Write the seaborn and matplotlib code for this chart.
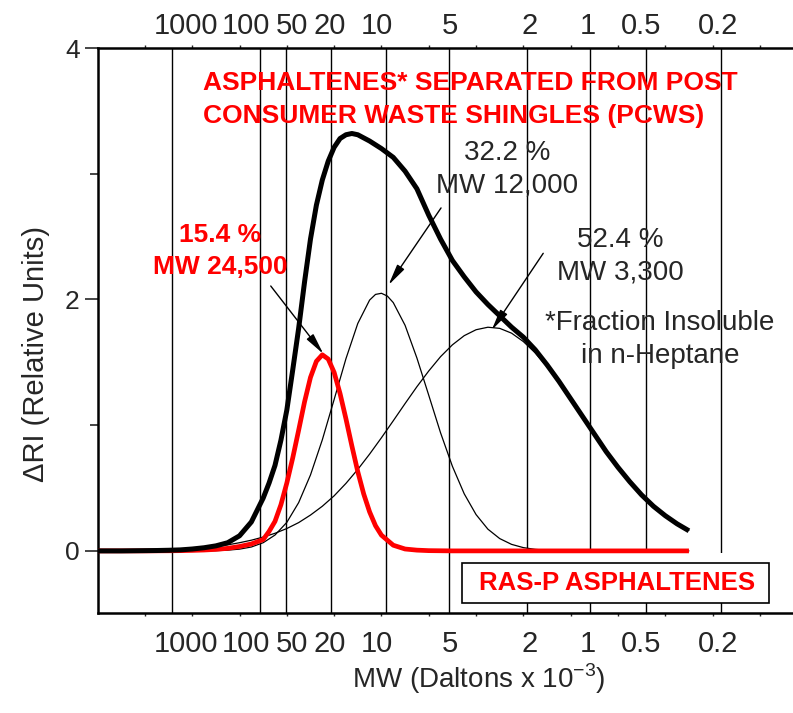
import matplotlib
matplotlib.use("Agg")
import matplotlib.pyplot as plt
from matplotlib.patches import Rectangle
import seaborn as sns

# MW calibration lines on the elution axis (arbitrary units, one tick per unit)
mw_labels = ["1000", "100", "50", "20", "10", "5", "2", "1", "0.5", "0.2"]
mw_pos = [1.57, 3.43, 3.98, 4.94, 6.09, 7.42, 9.08, 10.41, 11.60, 13.18]
mw_text_x = [1.87, 3.13, 4.11, 4.91, 5.91, 7.44, 9.14, 10.37, 11.49, 13.12]

# total detector trace (thick black)
total_x = [0, 0.5, 1.0, 1.25, 1.5, 1.75, 2.0, 2.25, 2.5, 2.75,
           3.0, 3.25, 3.5, 3.625, 3.75, 3.875, 4.0, 4.125, 4.25, 4.375,
           4.5, 4.625, 4.75, 4.875, 5.0, 5.125, 5.25, 5.375, 5.5, 5.75,
           6.0, 6.25, 6.5, 6.75, 7.0, 7.25, 7.5, 7.75, 8.0, 8.25,
           8.5, 8.75, 9.0, 9.25, 9.5, 9.75, 10.0, 10.25, 10.5, 10.75,
           11.0, 11.25, 11.5, 11.75, 12.0, 12.25, 12.5]
total_y = [0, 0, 0.002, 0.003, 0.005, 0.008, 0.015, 0.025, 0.04, 0.065,
           0.12, 0.23, 0.42, 0.54, 0.68, 0.88, 1.12, 1.44, 1.77, 2.14,
           2.48, 2.75, 2.95, 3.10, 3.21, 3.28, 3.31, 3.32, 3.31, 3.26,
           3.20, 3.13, 3.02, 2.88, 2.67, 2.48, 2.31, 2.18, 2.06, 1.96,
           1.87, 1.78, 1.70, 1.60, 1.48, 1.35, 1.21, 1.07, 0.93, 0.79,
           0.665, 0.55, 0.445, 0.355, 0.28, 0.215, 0.16]

# RAS-P fraction, MW 24,500 (red)
red_x = [0, 1.0, 1.5, 1.75, 2.0, 2.25, 2.5, 2.75, 3.0, 3.25,
         3.5, 3.625, 3.75, 3.875, 4.0, 4.125, 4.25, 4.375, 4.5, 4.625,
         4.75, 4.875, 5.0, 5.125, 5.25, 5.375, 5.5, 5.625, 5.75, 5.875,
         6.0, 6.25, 6.5, 6.75, 7.0, 7.5, 12.5]
red_y = [0, 0, 0.001, 0.002, 0.004, 0.007, 0.012, 0.02, 0.035, 0.055,
         0.09, 0.155, 0.235, 0.367, 0.54, 0.74, 0.96, 1.186, 1.38, 1.508,
         1.56, 1.526, 1.42, 1.252, 1.05, 0.835, 0.63, 0.453, 0.31, 0.20,
         0.125, 0.045, 0.015, 0.006, 0.002, 0.0, 0.0]

# fraction MW 12,000
mid_x = [0, 1.5, 2.0, 2.5, 2.75, 3.0, 3.25, 3.5, 3.75, 4.0,
         4.25, 4.5, 4.75, 5.0, 5.25, 5.5, 5.75, 5.875, 6.0, 6.125,
         6.25, 6.5, 6.75, 7.0, 7.25, 7.5, 7.75, 8.0, 8.25, 8.5,
         8.75, 9.0, 9.25, 9.5, 9.75, 10.0, 10.5, 12.5]
mid_y = [0, 0, 0.0003, 0.002, 0.006, 0.014, 0.031, 0.065, 0.126, 0.227,
         0.384, 0.604, 0.883, 1.204, 1.529, 1.809, 1.995, 2.04, 2.049, 2.027,
         1.975, 1.794, 1.534, 1.238, 0.939, 0.673, 0.454, 0.289, 0.173, 0.098,
         0.052, 0.026, 0.012, 0.005, 0.002, 0.001, 0, 0]

# fraction MW 3,300
low_x = [0, 1.0, 1.5, 2.0, 2.25, 2.5, 2.75, 3.0, 3.25, 3.5,
         3.75, 4.0, 4.25, 4.5, 4.75, 5.0, 5.25, 5.5, 5.75, 6.0,
         6.25, 6.5, 6.75, 7.0, 7.25, 7.5, 7.75, 8.0, 8.25, 8.5,
         8.75, 9.0, 9.25, 9.5, 9.75, 10.0, 10.25, 10.5, 10.75, 11.0,
         11.25, 11.5, 11.75, 12.0, 12.25, 12.5]
low_y = [0.0, 0.002, 0.005, 0.018, 0.025, 0.035, 0.048, 0.065, 0.085, 0.11,
         0.14, 0.178, 0.225, 0.285, 0.355, 0.438, 0.537, 0.648, 0.770, 0.900,
         1.035, 1.172, 1.306, 1.431, 1.545, 1.639, 1.712, 1.759, 1.779, 1.770,
         1.732, 1.665, 1.575, 1.465, 1.338, 1.203, 1.063, 0.923, 0.789, 0.662,
         0.547, 0.444, 0.354, 0.278, 0.215, 0.163]

sns.set_style("white")
plt.rcParams["font.family"] = ["Liberation Sans", "DejaVu Sans"]
RED = "#ff0000"

W, H = 793, 713
fig = plt.figure(figsize=(W / 100, H / 100), dpi=100)
ax = fig.add_axes([97.6 / W, 1 - 613 / H, 1 - 97.6 / W, 565 / H])
ax.set_xlim(0, 14.7)
ax.set_ylim(-0.494, 4.0)

for p in mw_pos:
    ax.axvline(p, color="black", lw=1.0, zorder=1)

sns.lineplot(x=low_x, y=low_y, ax=ax, color="black", lw=0.9, zorder=2)
sns.lineplot(x=mid_x, y=mid_y, ax=ax, color="black", lw=0.9, zorder=2)
sns.lineplot(x=red_x, y=red_y, ax=ax, color=RED, lw=3.4, zorder=3,
             solid_capstyle="butt")
sns.lineplot(x=total_x, y=total_y, ax=ax, color="black", lw=3.6, zorder=4,
             solid_capstyle="butt")

# legend-like box at the bottom right
ax.add_patch(Rectangle((7.704, -0.4135), 6.49, 0.40, facecolor="white",
                       edgecolor="none", zorder=1.5))
ax.add_patch(Rectangle((7.704, -0.4135), 6.49, 0.318, facecolor="white",
                       edgecolor="black", lw=1.2, zorder=5))
ax.text(10.99, -0.254, "RAS-P ASPHALTENES", color=RED, fontweight="bold",
        fontsize=18.5, ha="center", va="center", zorder=6)

# axes styling
for s in ["left", "top", "bottom"]:
    ax.spines[s].set_linewidth(1.8)
    ax.spines[s].set_color("black")
ax.spines["right"].set_visible(False)
ax.set_xticks(range(1, 15))
ax.tick_params(axis="x", which="major", bottom=True, top=True, direction="out",
               length=2.5, width=1, labelbottom=False, labeltop=False)
ax.set_yticks([0, 2, 4])
ax.set_yticks([1, 3], minor=True)
ax.tick_params(axis="y", which="major", left=True, right=False, direction="out",
               length=9.4, width=1.2, labelsize=19, pad=3.6)
ax.tick_params(axis="y", which="minor", left=True, right=False, direction="out",
               length=5.5, width=1.2)
ax.set_xlabel("")
ax.set_ylabel("")

for lab, xx in zip(mw_labels, mw_text_x):
    ax.text(xx, 4.111, lab, ha="center", va="baseline", fontsize=21, clip_on=False)
    ax.text(xx, -0.803, lab, ha="center", va="baseline", fontsize=21, clip_on=False)

ax.text(8.06, -1.089, r"MW (Daltons x 10$^{\mathregular{-3}}$)", ha="center",
        va="baseline", fontsize=20, clip_on=False)
fig.text(36 / W, 1 - 354 / H, "ΔRI (Relative Units)", rotation=90,
         ha="center", va="center", fontsize=21)

# title and peak annotations
ax.text(2.23, 3.666, "ASPHALTENES* SEPARATED FROM POST", color=RED,
        fontweight="bold", fontsize=19, ha="left", va="baseline")
ax.text(2.23, 3.401, "CONSUMER WASTE SHINGLES (PCWS)", color=RED,
        fontweight="bold", fontsize=19, ha="left", va="baseline")

ax.text(2.59, 2.460, "15.4 %", color=RED, fontweight="bold", fontsize=19,
        ha="center", va="baseline")
ax.text(2.59, 2.203, "MW 24,500", color=RED, fontweight="bold", fontsize=19,
        ha="center", va="baseline")
ax.text(8.655, 3.109, "32.2 %", fontsize=20, ha="center", va="baseline")
ax.text(8.655, 2.847, "MW 12,000", fontsize=20, ha="center", va="baseline")
ax.text(11.045, 2.417, "52.4 %", fontsize=20, ha="center", va="baseline")
ax.text(11.045, 2.155, "MW 3,300", fontsize=20, ha="center", va="baseline")
ax.text(11.89, 1.757, "*Fraction Insoluble", fontsize=20, ha="center", va="baseline")
ax.text(11.89, 1.495, "in n-Heptane", fontsize=20, ha="center", va="baseline")

arrow = dict(arrowstyle="-|>,head_length=0.8,head_width=0.16", mutation_scale=16,
             color="black", lw=1.0, shrinkA=0, shrinkB=0)
ax.annotate("", xy=(4.772, 1.567), xytext=(3.660, 2.107), arrowprops=arrow, zorder=6)
ax.annotate("", xy=(6.15, 2.115), xytext=(7.26, 2.728), arrowprops=arrow, zorder=6)
ax.annotate("", xy=(8.33, 1.756), xytext=(9.42, 2.367), arrowprops=arrow, zorder=6)

fig.savefig("out.png", dpi=100)
